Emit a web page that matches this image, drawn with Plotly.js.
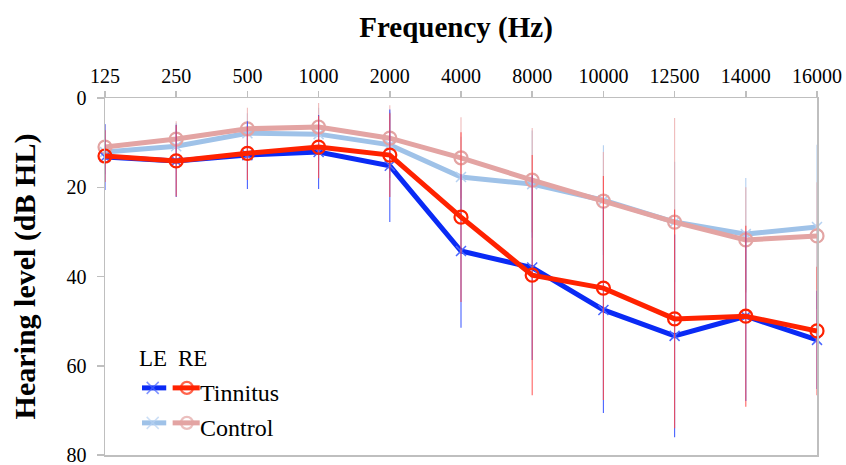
<!DOCTYPE html>
<html>
<head>
<meta charset="utf-8">
<script src="https://cdn.plot.ly/plotly-3.0.1.min.js"></script>
<style>html,body{margin:0;padding:0;background:#fff;}#chart{width:846px;height:465px;}</style>
</head>
<body>
<div id="chart"></div>
<script>
// ---- data ----
var frequencies = ["125","250","500","1000","2000","4000","8000","10000","12500","14000","16000"];

var tinnitusLE    = [13.2, 14.1, 12.8, 12.1, 15.2, 34.3, 38.0, 47.5, 53.3, 48.9, 54.2];
var tinnitusLE_sd = [7.4, 8.1, 7.6, 8.3, 12.6, 17.2, 20.7, 23.1, 22.7, 19.0, 11.0];

var tinnitusRE    = [13.0, 14.1, 12.4, 11.0, 12.8, 26.7, 39.7, 42.6, 49.5, 48.9, 52.2];
var tinnitusRE_sd = [5.8, 8.0, 6.0, 7.0, 9.4, 19.0, 26.9, 25.1, 24.5, 20.3, 14.4];

var controlLE     = [12.1, 10.8, 7.9, 8.1, 10.5, 17.7, 19.3, 22.9, 27.8, 30.5, 28.9];
var controlLE_sd  = [5.0, 5.2, 4.5, 5.9, 7.4, 9.0, 12.0, 12.3, 13.5, 12.6, 18.4];

var controlRE     = [11.0, 9.2, 6.9, 6.5, 9.0, 13.4, 18.4, 23.1, 27.8, 31.8, 30.9];
var controlRE_sd  = [5.0, 4.0, 4.7, 5.4, 7.4, 9.1, 11.7, 11.0, 23.3, 11.8, 12.0];

var yTicks = [0, 20, 40, 60, 80];
var legendHeader = ["LE", "RE"];
var legendGroups = ["Tinnitus", "Control"];

// ---- styles ----
var C = {
  tLE: "#0a2af5", tRE: "#ff2200", cLE: "#9fc2e8", cRE: "#e3a4a3",
  tLEm: "#4a66ff", cLEm: "#b6d2f2",
  tLEe: "rgba(40,70,255,0.85)", tREe: "rgba(255,70,70,0.85)",
  cLEe: "rgba(160,195,235,0.8)", cREe: "rgba(235,170,170,0.8)"
};
var serif = "Liberation Serif, Times New Roman, serif";

function series(y, sd, lineColor, errColor, symbol, mColor, msize, mw) {
  return {
    type: "scatter", mode: "lines+markers", x: frequencies, y: y,
    line: {color: lineColor, width: 5},
    marker: {symbol: symbol, size: msize, color: mColor, line: {color: mColor, width: mw}},
    error_y: {type: "data", array: sd, visible: true, color: errColor, thickness: 1.1, width: 0},
    cliponaxis: false, showlegend: false, hoverinfo: "skip"
  };
}

var traces = [
  series(controlLE, controlLE_sd, C.cLE, C.cLEe, "x-thin-open", C.cLEm, 10, 1.5),
  series(controlRE, controlRE_sd, C.cRE, C.cREe, "circle-open", C.cRE, 13, 2.2),
  series(tinnitusLE, tinnitusLE_sd, C.tLE, C.tLEe, "x-thin-open", C.tLEm, 10, 1.5),
  series(tinnitusRE, tinnitusRE_sd, C.tRE, C.tREe, "circle-open", C.tRE, 13, 2.2)
];

// legend samples drawn on an overlay axis in plot fractions
var rows = [0.188, 0.090];
var legCols = [[C.tLE, C.tRE, C.tLEm], [C.cLE, C.cRE, C.cLEm]];
for (var r = 0; r < 2; r++) {
  traces.push({type: "scatter", mode: "lines+markers", xaxis: "x2", yaxis: "y2",
    x: [0.052, 0.067, 0.086], y: [rows[r], rows[r], rows[r]],
    line: {color: legCols[r][0], width: 5},
    marker: {symbol: "x-thin-open", size: [0, 12, 0], color: legCols[r][2], line: {color: legCols[r][2], width: 1.5}},
    showlegend: false, hoverinfo: "skip", cliponaxis: false});
  traces.push({type: "scatter", mode: "lines+markers", xaxis: "x2", yaxis: "y2",
    x: [0.095, 0.115, 0.133], y: [rows[r], rows[r], rows[r]],
    line: {color: legCols[r][1], width: 5},
    marker: {symbol: "circle-open", size: [0, 12, 0], color: legCols[r][1], line: {color: legCols[r][1], width: 2.2}},
    showlegend: false, hoverinfo: "skip", cliponaxis: false});
}

var layout = {
  width: 846, height: 465,
  margin: {l: 105, r: 29, t: 98, b: 10},
  paper_bgcolor: "#fff", plot_bgcolor: "#fff",
  font: {family: serif, color: "#000", size: 20},
  title: {text: "<b>Frequency (Hz)</b>", font: {family: serif, size: 29, color: "#000"},
          x: 0.493, xref: "paper", xanchor: "center", y: 0.942, yanchor: "middle"},
  xaxis: {type: "category", side: "top", range: [0, 10], showgrid: false, zeroline: false,
          showline: true, linecolor: "#bfbfbf", linewidth: 1.5, mirror: true,
          ticks: "outside", ticklen: 6, tickcolor: "#bfbfbf", tickwidth: 1.5,
          tickfont: {family: serif, size: 20, color: "#000"}},
  yaxis: {range: [80, 0], tickvals: yTicks, showgrid: false, zeroline: false,
          showline: true, linecolor: "#bfbfbf", linewidth: 1.5, mirror: true,
          ticks: "outside", ticklen: 7, tickcolor: "#bfbfbf", tickwidth: 1.5,
          ticklabeloverflow: "allow", ticklabelstandoff: 6,
          tickfont: {family: serif, size: 20, color: "#000"},
          title: {text: "<b>Hearing level (dB HL)</b>", font: {family: serif, size: 30, color: "#000"}, standoff: 22}},
  xaxis2: {overlaying: "x", range: [0, 1], visible: false, fixedrange: true},
  yaxis2: {overlaying: "y", range: [0, 1], visible: false, fixedrange: true},
  annotations: [
    {xref: "paper", yref: "paper", x: 0.045, y: 0.269, xanchor: "left", yanchor: "middle", showarrow: false,
     text: legendHeader[0], font: {family: serif, size: 23, color: "#000"}},
    {xref: "paper", yref: "paper", x: 0.100, y: 0.269, xanchor: "left", yanchor: "middle", showarrow: false,
     text: legendHeader[1], font: {family: serif, size: 23, color: "#000"}},
    {xref: "paper", yref: "paper", x: 0.131, y: 0.174, xanchor: "left", yanchor: "middle", showarrow: false,
     text: legendGroups[0], font: {family: serif, size: 24, color: "#000"}},
    {xref: "paper", yref: "paper", x: 0.131, y: 0.076, xanchor: "left", yanchor: "middle", showarrow: false,
     text: legendGroups[1], font: {family: serif, size: 24, color: "#000"}}
  ]
};

Plotly.newPlot("chart", traces, layout, {displayModeBar: false, staticPlot: true});
</script>
</body>
</html>
